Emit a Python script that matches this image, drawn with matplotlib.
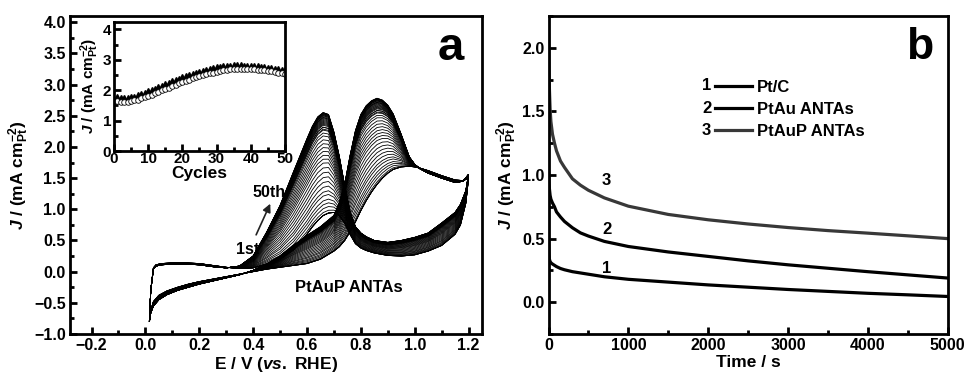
import numpy as np
import matplotlib.pyplot as plt
from matplotlib.ticker import MultipleLocator

plt.rcParams['font.family'] = 'Liberation Sans'
plt.rcParams['font.weight'] = 'bold'
plt.rcParams['axes.labelweight'] = 'bold'
plt.rcParams['mathtext.fontset'] = 'custom'
plt.rcParams['mathtext.rm'] = 'Liberation Sans:bold'
plt.rcParams['mathtext.bf'] = 'Liberation Sans:bold'
plt.rcParams['mathtext.it'] = 'Liberation Sans:bold:italic'

# ---- panel a: CV, first cycle and strongest cycle (anchor curves) ----
E_fwd = [0.015, 0.02, 0.03, 0.05, 0.08, 0.12, 0.16, 0.2, 0.25, 0.3, 0.35, 0.4, 0.45,
         0.5, 0.55, 0.6, 0.65, 0.7, 0.72, 0.74, 0.76, 0.78, 0.8, 0.82, 0.84, 0.86,
         0.88, 0.9, 0.92, 0.95, 0.98, 1.0, 1.02, 1.05, 1.1, 1.15, 1.18, 1.2]
J_fwd_first = [-0.78, -0.62, -0.48, -0.38, -0.31, -0.25, -0.2, -0.16, -0.12, -0.08, -0.04, 0.0, 0.04,
               0.07, 0.1, 0.13, 0.2, 0.33, 0.4, 0.5, 0.64, 0.8, 0.98, 1.14, 1.28, 1.4,
               1.5, 1.58, 1.64, 1.68, 1.69, 1.68, 1.66, 1.62, 1.54, 1.47, 1.46, 1.5]
J_fwd_max = [-0.8, -0.66, -0.55, -0.45, -0.37, -0.3, -0.25, -0.2, -0.15, -0.1, -0.05, 0.02, 0.12,
             0.25, 0.42, 0.58, 0.72, 0.9, 1.1, 1.4, 1.86, 2.26, 2.52, 2.66, 2.74, 2.78,
             2.75, 2.67, 2.53, 2.2, 1.84, 1.72, 1.65, 1.58, 1.5, 1.43, 1.45, 1.56]

E_bwd = [1.2, 1.19, 1.17, 1.15, 1.1, 1.05, 1.0, 0.95, 0.9, 0.85, 0.82, 0.8, 0.78, 0.76,
         0.74, 0.72, 0.7, 0.68, 0.66, 0.64, 0.62, 0.6, 0.55, 0.5, 0.45, 0.4, 0.35, 0.3,
         0.25, 0.2, 0.15, 0.1, 0.06, 0.04, 0.03, 0.02, 0.015]
J_bwd_first = [1.5, 1.1, 0.75, 0.6, 0.42, 0.33, 0.27, 0.25, 0.26, 0.3, 0.34, 0.38, 0.45, 0.6,
               0.78, 0.9, 0.95, 0.94, 0.9, 0.82, 0.72, 0.6, 0.35, 0.2, 0.12, 0.06, 0.05, 0.07,
               0.1, 0.13, 0.14, 0.14, 0.13, 0.11, 0.06, -0.3, -0.78]
J_bwd_max = [1.56, 1.3, 1.08, 0.95, 0.78, 0.62, 0.55, 0.5, 0.47, 0.5, 0.56, 0.62, 0.72, 0.95,
             1.38, 1.85, 2.24, 2.52, 2.55, 2.48, 2.33, 2.13, 1.6, 1.06, 0.63, 0.25, 0.09, 0.06,
             0.08, 0.11, 0.12, 0.12, 0.11, 0.09, 0.05, -0.3, -0.8]

# ---- inset: peak current vs cycle number ----
cycles = list(range(1, 51))
peak_fwd = [1.76, 1.74, 1.73, 1.74, 1.76, 1.79, 1.83, 1.87, 1.91, 1.96,
            2.0, 2.05, 2.1, 2.15, 2.2, 2.25, 2.3, 2.34, 2.38, 2.42,
            2.46, 2.5, 2.54, 2.58, 2.61, 2.64, 2.67, 2.7, 2.73, 2.75,
            2.77, 2.79, 2.8, 2.81, 2.82, 2.82, 2.82, 2.81, 2.81, 2.8,
            2.79, 2.78, 2.77, 2.76, 2.74, 2.72, 2.71, 2.69, 2.67, 2.65]
peak_bwd = [1.63, 1.61, 1.6, 1.61, 1.63, 1.66, 1.69, 1.73, 1.77, 1.81,
            1.85, 1.9, 1.95, 2.0, 2.04, 2.08, 2.13, 2.18, 2.22, 2.27,
            2.31, 2.35, 2.39, 2.43, 2.46, 2.49, 2.52, 2.55, 2.58, 2.61,
            2.63, 2.65, 2.67, 2.68, 2.69, 2.7, 2.7, 2.7, 2.69, 2.69,
            2.68, 2.67, 2.66, 2.65, 2.63, 2.62, 2.6, 2.58, 2.55, 2.52]

# ---- panel b: chronoamperometry ----
t = [0, 5, 10, 20, 30, 50, 75, 100, 150, 200, 300, 400, 500, 700, 1000,
     1500, 2000, 2500, 3000, 3500, 4000, 4500, 5000]
j_ptc = [0.5, 0.38, 0.34, 0.32, 0.31, 0.3, 0.29, 0.28, 0.265, 0.255, 0.24, 0.23, 0.22, 0.2, 0.18,
         0.158, 0.136, 0.118, 0.1, 0.085, 0.07, 0.058, 0.045]
j_ptau = [1.02, 0.95, 0.9, 0.84, 0.81, 0.78, 0.75, 0.71, 0.67, 0.635, 0.585, 0.545, 0.52, 0.478, 0.438,
          0.395, 0.36, 0.325, 0.294, 0.267, 0.24, 0.215, 0.19]
j_ptaup = [2.1, 1.85, 1.7, 1.52, 1.42, 1.32, 1.25, 1.19, 1.11, 1.06, 0.97, 0.92, 0.88, 0.82, 0.755,
           0.69, 0.648, 0.615, 0.587, 0.563, 0.543, 0.522, 0.5]
names = ['Pt/C', 'PtAu ANTAs', 'PtAuP ANTAs']

ylab = r'$\it{J}$ / (mA cm$^{-2}_{\mathrm{Pt}}$)'

fig = plt.figure(figsize=(9.65, 3.76), dpi=100)
ax1 = fig.add_axes([0.0725, 0.1117, 0.427, 0.8457])
ax2 = fig.add_axes([0.5684, 0.1117, 0.4136, 0.8457])
axin = fig.add_axes([0.1181, 0.5984, 0.1772, 0.3439])

def style(ax, lw=2.0, size=11.5):
    for s in ax.spines.values():
        s.set_linewidth(lw)
    ax.tick_params(which='both', direction='in', width=lw, labelsize=size, pad=3,
                   top=False, right=False)
    ax.tick_params(which='major', length=5)
    ax.tick_params(which='minor', length=3)

# weight of each cycle between the first and strongest anchor, from the inset peaks
pf = np.array(peak_fwd)
w = np.clip((pf - pf[0]) / (pf.max() - pf[0]), 0, 1)
for k in range(len(cycles)):
    jf = (1 - w[k]) * np.array(J_fwd_first) + w[k] * np.array(J_fwd_max)
    jb = (1 - w[k]) * np.array(J_bwd_first) + w[k] * np.array(J_bwd_max)
    ax1.plot(E_fwd + E_bwd, np.concatenate([jf, jb]), color='black', lw=0.6)

ax1.set_xlim(-0.28, 1.25)
ax1.set_ylim(-1.0, 4.1)
ax1.xaxis.set_major_locator(MultipleLocator(0.2))
ax1.xaxis.set_minor_locator(MultipleLocator(0.1))
ax1.yaxis.set_major_locator(MultipleLocator(0.5))
ax1.yaxis.set_minor_locator(MultipleLocator(0.25))
style(ax1)
ax1.set_xlabel(r'E / V ($\it{vs.}$ RHE)', fontsize=12.5, labelpad=1)
ax1.set_ylabel(ylab, fontsize=12.5, labelpad=2)
ax1.text(0.458, 1.27, '50th', fontsize=11.5, ha='center', va='center')
ax1.text(0.38, 0.36, '1st', fontsize=11.5, ha='center', va='center')
ax1.annotate('', xy=(0.468, 1.13), xytext=(0.407, 0.55),
             arrowprops=dict(arrowstyle='-|>', color='#222222', lw=1.2, mutation_scale=12))
ax1.text(0.754, -0.26, 'PtAuP ANTAs', fontsize=12, ha='center', va='center')
ax1.text(0.925, 0.9, 'a', transform=ax1.transAxes, fontsize=34, ha='center', va='center')

axin.plot(cycles, peak_fwd, linestyle='none', marker='^', ms=4, color='black')
axin.plot(cycles, peak_bwd, linestyle='none', marker='o', ms=4, mfc='white', mec='black', mew=0.6)
axin.set_xlim(0, 50)
axin.set_ylim(0, 4.25)
axin.xaxis.set_major_locator(MultipleLocator(10))
axin.xaxis.set_minor_locator(MultipleLocator(5))
axin.yaxis.set_major_locator(MultipleLocator(1))
axin.yaxis.set_minor_locator(MultipleLocator(0.5))
style(axin, lw=2.0, size=11)
axin.tick_params(axis='x', pad=1)
axin.tick_params(axis='y', pad=2)
axin.set_xlabel('Cycles', fontsize=12.5, labelpad=0)
axin.set_ylabel(ylab, fontsize=11, labelpad=1)

colors = ['black', 'black', '#383838']
for j, c, n in zip([j_ptc, j_ptau, j_ptaup], colors, names):
    ax2.plot(t, j, color=c, lw=2.3, label=n)
ax2.set_xlim(0, 5000)
ax2.set_ylim(-0.25, 2.25)
ax2.xaxis.set_major_locator(MultipleLocator(1000))
ax2.xaxis.set_minor_locator(MultipleLocator(500))
ax2.yaxis.set_major_locator(MultipleLocator(0.5))
ax2.yaxis.set_minor_locator(MultipleLocator(0.25))
style(ax2)
ax2.set_xlabel('Time / s', fontsize=12.5, labelpad=1)
ax2.set_ylabel(ylab, fontsize=12.5, labelpad=2)
ax2.legend(loc='upper left', bbox_to_anchor=(0.4175, 0.80), frameon=False, fontsize=12,
           handlelength=2.2, handletextpad=0.3, labelspacing=0.43, borderpad=0, borderaxespad=0)
for i, yy in enumerate([0.783, 0.710, 0.640]):
    ax2.text(0.396, yy, str(i + 1), transform=ax2.transAxes, fontsize=12, ha='center', va='center')
ax2.text(729, 0.96, '3', fontsize=12, ha='center', va='center')
ax2.text(729, 0.57, '2', fontsize=12, ha='center', va='center')
ax2.text(729, 0.268, '1', fontsize=12, ha='center', va='center')
ax2.text(0.93, 0.9, 'b', transform=ax2.transAxes, fontsize=32, ha='center', va='center')

fig.savefig('out.png', dpi=100)
